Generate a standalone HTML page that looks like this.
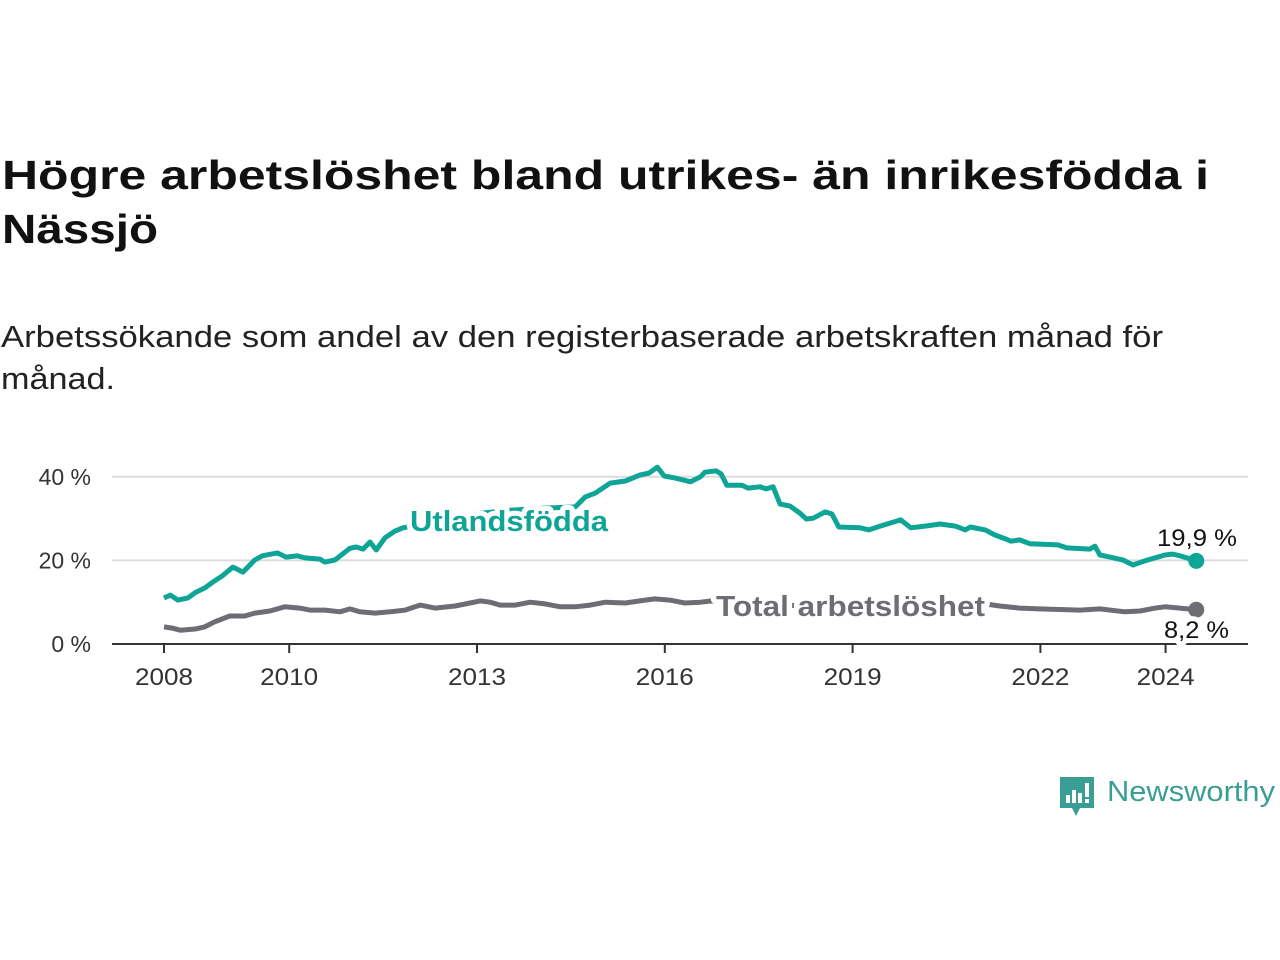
<!DOCTYPE html>
<html><head><meta charset="utf-8"><style>
html,body{margin:0;padding:0;background:#fff;}
svg{display:block;font-family:"Liberation Sans","DejaVu Sans",sans-serif;}
</style></head><body>
<svg id="chart" width="1280" height="960" viewBox="0 0 1280 960">
<text x="2" y="189" font-size="41" font-weight="bold" fill="#111" textLength="1207" lengthAdjust="spacingAndGlyphs">Högre arbetslöshet bland utrikes- än inrikesfödda i</text>
<text x="2" y="243" font-size="41" font-weight="bold" fill="#111" textLength="156" lengthAdjust="spacingAndGlyphs">Nässjö</text>
<text x="1" y="347" font-size="31" fill="#222" textLength="1162" lengthAdjust="spacingAndGlyphs">Arbetssökande som andel av den registerbaserade arbetskraften månad för</text>
<text x="1" y="389" font-size="31" fill="#222" textLength="114" lengthAdjust="spacingAndGlyphs">månad.</text>
<g id="grid"></g><g id="axes"></g><g id="series"></g><g id="labels"></g>
<g>
<path d="M1060 777 h34 v31 h-14 l-4 8 l-4 -8 h-12 z" fill="#3a9e94"/>
<rect x="1066" y="795" width="4" height="8" fill="#fff"/><rect x="1072" y="790" width="4" height="13" fill="#fff"/><rect x="1078" y="793" width="4" height="10" fill="#fff"/><rect x="1085" y="783" width="4" height="14" fill="#fff"/><rect x="1085" y="799" width="4" height="4" fill="#fff"/>
<text x="1107" y="801" font-size="29" fill="#3a9e94" textLength="168" lengthAdjust="spacingAndGlyphs">Newsworthy</text>
</g>
</svg>
<script>
const yTicks=[0,20,40];
const xTicks=[2008,2010,2013,2016,2019,2022,2024];
const utlYears=[2008.00,2008.10,2008.22,2008.38,2008.51,2008.65,2008.78,2008.93,2009.10,2009.26,2009.45,2009.57,2009.81,2009.95,2010.13,2010.25,2010.49,2010.57,2010.73,2010.97,2011.07,2011.18,2011.29,2011.39,2011.53,2011.69,2011.82,2012.25,2012.89,2013.53,2014.09,2014.57,2014.73,2014.89,2015.13,2015.37,2015.60,2015.75,2015.88,2015.99,2016.17,2016.41,2016.57,2016.64,2016.82,2016.90,2016.99,2017.23,2017.33,2017.52,2017.62,2017.73,2017.84,2018.00,2018.16,2018.26,2018.37,2018.56,2018.67,2018.78,2019.12,2019.26,2019.44,2019.77,2019.93,2020.16,2020.40,2020.64,2020.80,2020.88,2021.12,2021.27,2021.45,2021.53,2021.67,2021.83,2022.28,2022.42,2022.79,2022.87,2022.95,2023.11,2023.32,2023.48,2023.67,2023.99,2024.11,2024.23,2024.49];
const utlValues=[11.0,11.7,10.5,11.0,12.4,13.4,14.8,16.3,18.4,17.2,20.1,21.1,21.8,20.8,21.1,20.6,20.3,19.6,20.1,22.9,23.2,22.7,24.4,22.5,25.4,27.0,27.8,29.0,31.0,32.0,32.5,32.8,35.2,36.1,38.5,39.0,40.4,40.9,42.3,40.2,39.7,38.8,40.0,41.1,41.4,40.7,38.0,38.0,37.3,37.6,37.1,37.6,33.5,33.0,31.3,29.9,30.1,31.6,31.1,28.0,27.8,27.3,28.2,29.7,27.8,28.2,28.7,28.2,27.3,28.0,27.3,26.1,25.1,24.6,24.9,24.0,23.7,23.0,22.7,23.4,21.3,20.8,20.1,18.9,19.9,21.3,21.5,21.1,19.9];
const totYears=[2008.00,2008.13,2008.26,2008.50,2008.65,2008.81,2009.05,2009.29,2009.45,2009.69,2009.93,2010.17,2010.33,2010.57,2010.81,2010.97,2011.13,2011.37,2011.61,2011.85,2012.09,2012.33,2012.65,2012.89,2013.05,2013.21,2013.37,2013.61,2013.85,2014.09,2014.33,2014.57,2014.81,2015.05,2015.37,2015.60,2015.84,2016.08,2016.32,2016.57,2016.75,2017.52,2018.48,2019.44,2020.40,2021.12,2021.35,2021.67,2021.99,2022.63,2022.95,2023.35,2023.59,2023.83,2023.99,2024.23,2024.49];
const totValues=[4.1,3.8,3.3,3.6,4.1,5.3,6.7,6.7,7.4,7.9,8.9,8.6,8.1,8.1,7.7,8.4,7.7,7.4,7.7,8.1,9.3,8.6,9.1,9.8,10.3,10.0,9.3,9.3,10.0,9.6,8.9,8.9,9.3,10.0,9.8,10.3,10.8,10.5,9.8,10.0,10.3,9.5,9.0,9.0,9.2,9.6,9.1,8.6,8.4,8.1,8.4,7.7,7.9,8.6,8.9,8.6,8.2];
const lastLabels=["19,9 %","8,2 %"];
const NS="http://www.w3.org/2000/svg";
function X(yr){return 164+(yr-2008)*62.6;}
function Y(v){return 644-v*4.18;}
function mk(tag,attrs,parent,txt){const e=document.createElementNS(NS,tag);for(const k in attrs)e.setAttribute(k,attrs[k]);if(txt!==undefined)e.textContent=txt;parent.appendChild(e);return e;}
const grid=document.getElementById('grid'),axes=document.getElementById('axes'),series=document.getElementById('series'),labels=document.getElementById('labels');
yTicks.forEach(v=>{
  if(v>0){const l=mk('line',{x1:112,x2:1248,y1:Y(v),y2:Y(v),stroke:'#dcdcdc','stroke-width':2},grid);
  
  }
  const t=mk('text',{x:91,y:Y(v)+8,'font-size':23,fill:'#333','text-anchor':'end'},axes,v+' %');
  
  
});
const ax=mk('line',{x1:112,x2:1248,y1:644,y2:644,stroke:'#333','stroke-width':2},axes);


xTicks.forEach(yr=>{
  mk('line',{x1:X(yr),x2:X(yr),y1:644,y2:653,stroke:'#333','stroke-width':2},axes);
  const t=mk('text',{x:X(yr),y:685,'font-size':24,fill:'#333','text-anchor':'middle',textLength:58,lengthAdjust:'spacingAndGlyphs'},axes,String(yr));
  
  
});
function line(ys,vs,col,name){
  const d=ys.map((y,i)=>(i?'L':'M')+X(y).toFixed(1)+' '+Y(vs[i]).toFixed(1)).join(' ');
  const p=mk('path',{d:d,fill:'none',stroke:col,'stroke-width':5,'stroke-linejoin':'round'},series);
  
  
  const c=mk('circle',{cx:X(ys[ys.length-1]),cy:Y(vs[vs.length-1]),r:8,fill:col},series);
  
  
}
line(totYears,totValues,'#6e6d73','total-line');
line(utlYears,utlValues,'#0ea496','utlandsfodda-line');
function lab(x,y,txt,col,size,bold,anchor,len,name){
  const t=mk('text',{x:x,y:y,'font-size':size,'font-weight':bold?'bold':'normal',fill:col,'text-anchor':anchor,stroke:'#fff','stroke-width':10,'paint-order':'stroke','stroke-linejoin':'round',textLength:len,lengthAdjust:'spacingAndGlyphs'},labels,txt);
  
  
}
lab(410,531,'Utlandsfödda','#0ea496',29,true,'start',198,'utlandsfodda-label');
lab(716,616,'Total arbetslöshet','#6e6d73',29,true,'start',269,'total-label');
lab(1237,546,lastLabels[0],'#111',24,false,'end',80,'utlandsfodda-end-value');
lab(1229,638,lastLabels[1],'#111',24,false,'end',65,'total-end-value');
</script>
</body></html>
